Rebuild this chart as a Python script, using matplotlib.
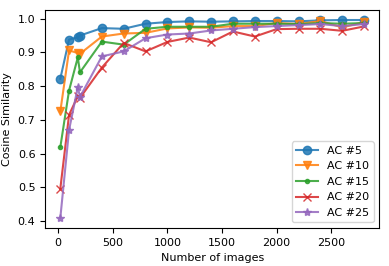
import numpy as np
import matplotlib
matplotlib.use("Agg")
import matplotlib.pyplot as plt

n_images = [20, 100, 180, 200, 400, 600, 800, 1000, 1200, 1400, 1600, 1800, 2000, 2200, 2400, 2600, 2800]

ac5 = [0.822, 0.938, 0.945, 0.950, 0.972, 0.970, 0.985, 0.990, 0.992, 0.991,
       0.992, 0.993, 0.993, 0.992, 0.995, 0.996, 0.996]
ac10 = [0.725, 0.906, 0.898, 0.896, 0.947, 0.956, 0.958, 0.971, 0.974, 0.973,
        0.978, 0.978, 0.987, 0.984, 0.993, 0.974, 0.990]
ac15 = [0.619, 0.787, 0.885, 0.841, 0.932, 0.923, 0.970, 0.976, 0.976, 0.976,
        0.985, 0.985, 0.985, 0.984, 0.987, 0.985, 0.987]
ac20 = [0.496, 0.715, 0.770, 0.765, 0.855, 0.928, 0.903, 0.931, 0.944, 0.930,
        0.962, 0.947, 0.969, 0.970, 0.970, 0.964, 0.977]
ac25 = [0.409, 0.670, 0.797, 0.768, 0.888, 0.903, 0.942, 0.953, 0.956, 0.965,
        0.970, 0.975, 0.978, 0.981, 0.984, 0.978, 0.984]

labels = ["AC #5", "AC #10", "AC #15", "AC #20", "AC #25"]
markers = ["o", "v", ".", "x", "*"]
series = [ac5, ac10, ac15, ac20, ac25]

fig, ax = plt.subplots(figsize=(3.89, 2.66), dpi=100)
for ys, lab, m in zip(series, labels, markers):
    ax.plot(n_images, ys, marker=m, label=lab, alpha=0.85)

ax.set_xticks([0, 500, 1000, 1500, 2000, 2500])
ax.set_yticks([0.4, 0.5, 0.6, 0.7, 0.8, 0.9, 1.0])
ax.tick_params(labelsize=8)
ax.set_xlabel("Number of images", fontsize=8)
ax.set_ylabel("Cosine Similarity", fontsize=8)
ax.legend(loc="lower right", fontsize=8)
fig.subplots_adjust(left=0.116, right=0.975, top=0.962, bottom=0.143)
fig.savefig("out.png", dpi=100)
